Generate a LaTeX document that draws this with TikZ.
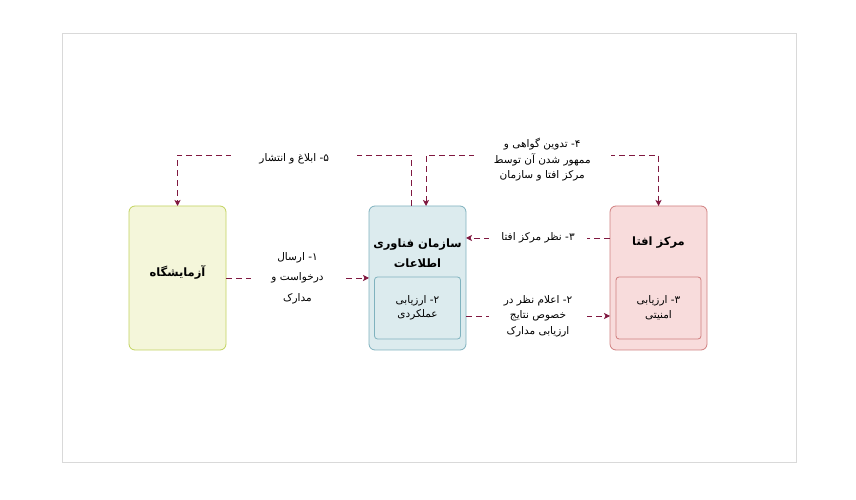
\documentclass[tikz,border=0pt]{standalone}
\usepackage{fontspec}
\usetikzlibrary{positioning, arrows, arrows.meta}
\TeXXeTstate=1
\newfontfamily\fafont[Script=Arabic]{DejaVu Sans}
\newcommand{\fa}[1]{\beginR #1\endR}
\newcommand{\stepno}[1]{#1\kern0pt-}

\definecolor{labfill}{HTML}{F4F6DA}
\definecolor{labdraw}{HTML}{C2D35E}
\definecolor{itofill}{HTML}{DCEBEE}
\definecolor{itodraw}{HTML}{7FB2BE}
\definecolor{aftafill}{HTML}{F8DCDC}
\definecolor{aftadraw}{HTML}{D07F7F}
\definecolor{flowcol}{RGB}{128,24,64}

\begin{document}
\begin{tikzpicture}[
    x=1pt, y=1pt,
    >={Stealth[length=6pt, width=6pt, inset=1.5pt]}, % arrow tip
    node distance=143pt,  % gap between the boxes
    unit/.style={draw, rounded corners=6pt, minimum width=97pt, minimum height=144pt, outer sep=0pt, line width=0.8pt},
    inbox/.style={draw, rounded corners=3pt, minimum height=62pt, outer sep=0pt, line width=0.8pt,
                  align=center, font=\fafont\fontsize{10.5}{14.5}\selectfont, text=black},
    title/.style={align=center, font=\fafont\bfseries\fontsize{11.5}{20}\selectfont},
    flow/.style={->, draw=flowcol, line width=0.9pt, dash pattern=on 6pt off 4pt},
    lbl/.style={fill=white, inner xsep=20pt, inner ysep=1pt, align=center, text=black,
                font=\fafont\fontsize{10.5}{15.5}\selectfont}
  ]

  \useasboundingbox (0,0) rectangle (856,500);
  \draw[gray!30] (62,38) rectangle (796,467);

  % --- BOXES ---
  \node[unit, draw=labdraw, fill=labfill] (lab) at (177.5,222) {};
  \node[unit, draw=itodraw, fill=itofill, right=of lab] (ito) {};
  \node[unit, draw=aftadraw, fill=aftafill, right=144pt of ito] (afta) {};

  \node[title] (labt) at ([yshift=6pt]lab.center) {\fa{آزمایشگاه}};
  \node[title] (itot) at ([yshift=25pt]ito.center) {\fa{سازمان فناوری}\\ \fa{اطلاعات}};
  \node[title] (aftat) at ([yshift=35pt]afta.center) {\fa{مرکز افتا}};

  \node[inbox, draw=itodraw, minimum width=86pt] (itoin) at ([yshift=-30pt]ito.center)
       {\fa{\stepno{۲} ارزیابی}\\ \fa{عملکردی}};
  \node[inbox, draw=aftadraw, minimum width=85pt] (aftain) at ([yshift=-30pt]afta.center)
       {\fa{\stepno{۳} ارزیابی}\\ \fa{امنیتی}};

  % --- CONNECTORS ---
  \path (lab.east) edge[flow] node[lbl, font=\fafont\fontsize{10.5}{20.5}\selectfont]
       {\fa{\stepno{۱} ارسال}\\ \fa{درخواست و}\\ \fa{مدارک}} (ito.west);

  \path ([yshift=-38pt]ito.east) edge[flow] node[lbl, inner xsep=15pt]
       {\fa{\stepno{۲} اعلام نظر در}\\ \fa{خصوص نتایج}\\ \fa{ارزیابی مدارک}} ([yshift=-38pt]afta.west);

  \path ([yshift=40pt]afta.west) edge[flow] node[lbl, inner xsep=12pt]
       {\fa{\stepno{۳} نظر مرکز افتا}} ([yshift=40pt]ito.east);

  \draw[flow, <->] ([xshift=8.5pt]ito.north) -- ++(0,51) -| node[lbl, pos=0.25, yshift=-5pt]
       {\fa{\stepno{۴} تدوین گواهی و}\\ \fa{ممهور شدن آن توسط}\\ \fa{مرکز افتا و سازمان}} (afta.north);

  \draw[flow] ([xshift=-6.5pt]ito.north) -- ++(0,51) -| node[lbl, pos=0.25, yshift=-4pt, inner xsep=28pt]
       {\fa{\stepno{۵} ابلاغ و انتشار}} (lab.north);

\end{tikzpicture}
\end{document}
